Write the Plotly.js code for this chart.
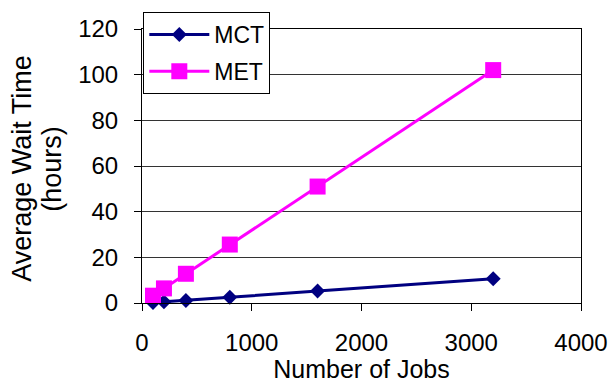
<!DOCTYPE html>
<html>
<head>
<meta charset="utf-8">
<script src="https://cdn.plot.ly/plotly-3.0.1.min.js"></script>
<style>
  html, body { margin: 0; padding: 0; background: #fff; }
  #chart { width: 613px; height: 383px; }
</style>
</head>
<body>
<div id="chart"></div>
<script>
// Number of jobs submitted
const jobs = [100, 200, 400, 800, 1600, 3200];
// Average wait time (hours) per scheduling heuristic
const mctWait = [0.2, 0.5, 1.1, 2.5, 5.3, 10.6];
const metWait = [3.2, 6.4, 12.8, 25.6, 51.0, 102.0];

const xTicks = [0, 1000, 2000, 3000, 4000];
const yTicks = [0, 20, 40, 60, 80, 100, 120];

const yTitleLines = ['Average Wait Time', '(hours)'];

const font = 'Liberation Sans, Arial, sans-serif';

const traces = [
  {
    x: jobs, y: mctWait, name: 'MCT', type: 'scatter', mode: 'lines+markers',
    legendgroup: 'mct', cliponaxis: false,
    line: { color: '#000080', width: 3 },
    marker: { symbol: 'diamond', size: 11.5, color: '#000080' }
  },
  {
    x: jobs, y: metWait, name: 'MET', type: 'scatter', mode: 'lines+markers',
    legendgroup: 'met', cliponaxis: false,
    line: { color: '#ff00ff', width: 3 },
    marker: { symbol: 'square', size: 16, color: '#ff00ff' }
  }
];

// Two-line vertical y-axis title, each line placed to the left of the tick labels
const yTitleShift = [-120, -90];
const annotations = yTitleLines.map((t, i) => ({
  text: t, xref: 'paper', yref: 'paper', x: 0, y: 0.49,
  xanchor: 'center', yanchor: 'middle', xshift: yTitleShift[i],
  textangle: -90, showarrow: false,
  font: { family: font, size: 27, color: '#000' }
}));

const layout = {
  width: 613, height: 383,
  margin: { l: 142, r: 32, t: 29, b: 80 },
  paper_bgcolor: '#fff', plot_bgcolor: '#fff',
  font: { family: font, color: '#000', size: 24 },
  showlegend: true,
  legend: {
    x: 0.003, y: 1.062, xanchor: 'left', yanchor: 'top',
    bgcolor: '#fff', bordercolor: '#000', borderwidth: 1,
    font: { family: font, size: 23, color: '#000' },
    tracegroupgap: 4, itemwidth: 60
  },
  annotations: annotations,
  xaxis: {
    range: [0, 4000], tickvals: xTicks, ticktext: xTicks.map(String),
    ticks: 'outside', ticklen: 7, tickcolor: '#000', tickwidth: 1,
    ticklabelstandoff: 11,
    showline: true, linecolor: '#000', linewidth: 1, mirror: true,
    showgrid: false, zeroline: false, automargin: false,
    tickfont: { family: font, size: 24 },
    title: { text: 'Number of Jobs', font: { family: font, size: 25 }, standoff: 4 }
  },
  yaxis: {
    range: [0, 120], tickvals: yTicks, ticktext: yTicks.map(String),
    ticks: 'outside', ticklen: 7, tickcolor: '#000', tickwidth: 1,
    ticklabelstandoff: 11,
    showline: true, linecolor: '#000', linewidth: 1, mirror: true,
    showgrid: true, gridcolor: '#333', gridwidth: 1, zeroline: false, automargin: false,
    tickfont: { family: font, size: 24 }
  }
};

Plotly.newPlot('chart', traces, layout, { displayModeBar: false, staticPlot: true });
</script>
</body>
</html>
